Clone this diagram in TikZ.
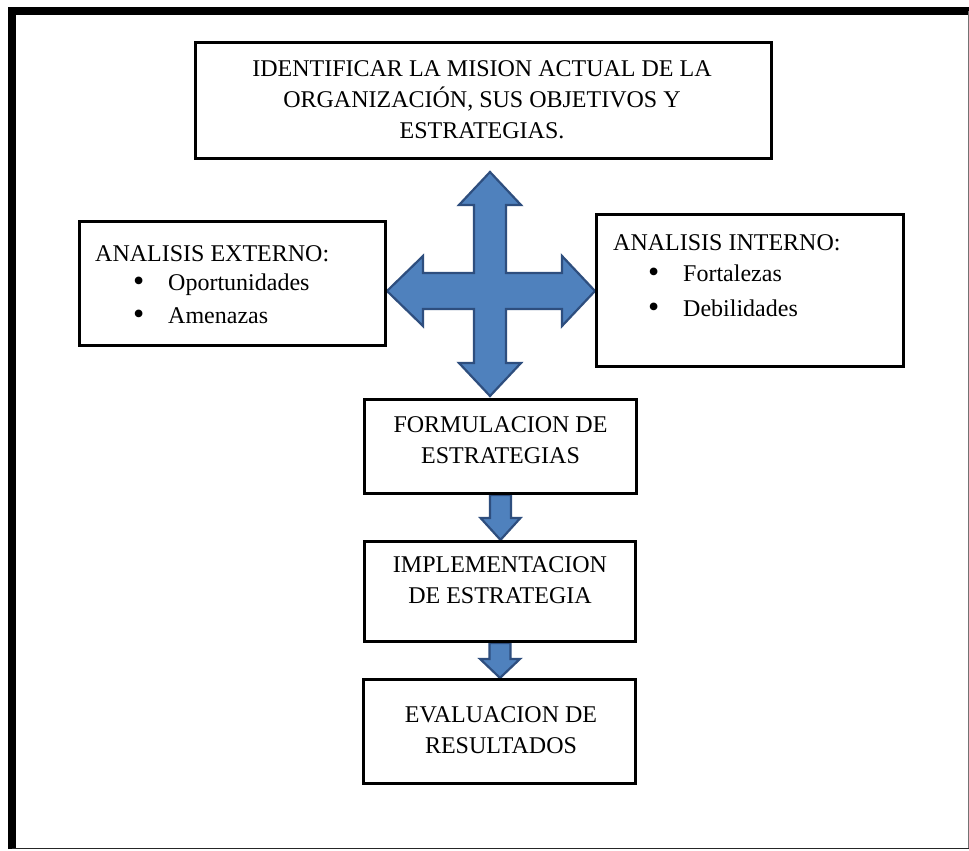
\documentclass[tikz,border=0pt]{standalone}
\usepackage{fontspec}
\setmainfont{Liberation Serif}
\usetikzlibrary{calc,backgrounds}
\definecolor{arrowfill}{HTML}{4F81BD}
\definecolor{arrowline}{HTML}{2E4E7E}
% list bullet, a little heavier than the plain text bullet
\newcommand{\itembullet}{\makebox[35pt][l]{\raisebox{-1pt}{\fontsize{32pt}{31pt}\selectfont •}}}
\begin{document}
\begin{tikzpicture}[x=1pt,y=-1pt,
  box/.style={draw=black, line width=3.2pt, inner sep=0pt},
  txt/.style={inner sep=0pt, font=\fontsize{24pt}{31pt}\selectfont, text=black},
  blockarrow/.style={fill=arrowfill, draw=arrowline, line width=2.2pt, line join=miter}]
\useasboundingbox (0,0) rectangle (969,851);

% page frame: heavy top and left rules, fine right and bottom rules
\draw[line width=8pt] (12,849) -- (12,11) -- (969,11);
\draw[black!55, line width=1pt] (968,11) -- (968,849);
\draw[black!85, line width=1.5pt] (12,848.5) -- (969,848.5);

% boxes
\node[box, minimum width=576pt, minimum height=116pt] (mision) at (483.5,100.5) {};
\node[box, minimum width=306pt, minimum height=124pt] (externo) at (232.5,283.5) {};
\node[box, minimum width=307pt, minimum height=152pt] (interno) at (750,290.5) {};
\node[box, minimum width=272pt, minimum height=94pt] (formula) at (500.5,446.5) {};
\node[box, minimum width=271pt, minimum height=100pt] (implem) at (500,591.5) {};
\node[box, minimum width=272pt, minimum height=104pt] (evalua) at (499.5,731.5) {};

% texts
\node[txt, align=center, anchor=north] (misiont) at (482,60)
  {IDENTIFICAR LA MISION ACTUAL DE LA\\ORGANIZACIÓN, SUS OBJETIVOS Y\\ESTRATEGIAS.};
\node[txt, align=left, anchor=north west] (externot) at (95,245)
  {ANALISIS EXTERNO:\\[-2pt]
   \hspace*{38pt}\itembullet Oportunidades\\[2pt]
   \hspace*{38pt}\itembullet Amenazas};
\node[txt, align=left, anchor=north west] (internot) at (613,234)
  {ANALISIS INTERNO:\\
   \hspace*{35pt}\itembullet Fortalezas\\[4pt]
   \hspace*{35pt}\itembullet Debilidades};
\node[txt, align=center, anchor=north] (formulat) at (500.5,416)
  {FORMULACION DE\\ESTRATEGIAS};
\node[txt, align=center, anchor=north] (implemt) at (500,556)
  {IMPLEMENTACION\\DE ESTRATEGIA};
\node[txt, align=center, anchor=north] (evaluat) at (501,706)
  {EVALUACION DE\\RESULTADOS};

\begin{pgfonlayer}{background}
  \fill[white] (0,0) rectangle (969,851);
  % four-way block arrow in the middle
  \coordinate (hub) at (490,291);
  \draw[blockarrow, shift={(hub)}]
    (0,-119) -- (31,-86) -- (16,-86) -- (16,-18) -- (72,-18) -- (72,-35)
    -- (105,0) -- (72,35) -- (72,18) -- (16,18) -- (16,72) -- (31,72)
    -- (0,105) -- (-31,72) -- (-16,72) -- (-16,18) -- (-67,18) -- (-67,35)
    -- (-103,0) -- (-67,-35) -- (-67,-18) -- (-16,-18) -- (-16,-86)
    -- (-31,-86) -- cycle;
  % short downward block arrows between the lower boxes
  \draw[blockarrow] let \p1=(formula.south), \p2=(implem.north) in
    (\x1-10.5pt,\y1) -- (\x1+10.5pt,\y1) -- (\x1+10.5pt,\y2+22pt)
    -- (\x1+20pt,\y2+22pt) -- (\x1,\y2) -- (\x1-20pt,\y2+22pt)
    -- (\x1-10.5pt,\y2+22pt) -- cycle;
  \draw[blockarrow] let \p1=(implem.south), \p2=(evalua.north) in
    (\x1-10.5pt,\y1) -- (\x1+10.5pt,\y1) -- (\x1+10.5pt,\y2+19pt)
    -- (\x1+20pt,\y2+19pt) -- (\x1,\y2) -- (\x1-20pt,\y2+19pt)
    -- (\x1-10.5pt,\y2+19pt) -- cycle;
\end{pgfonlayer}
\end{tikzpicture}
\end{document}
